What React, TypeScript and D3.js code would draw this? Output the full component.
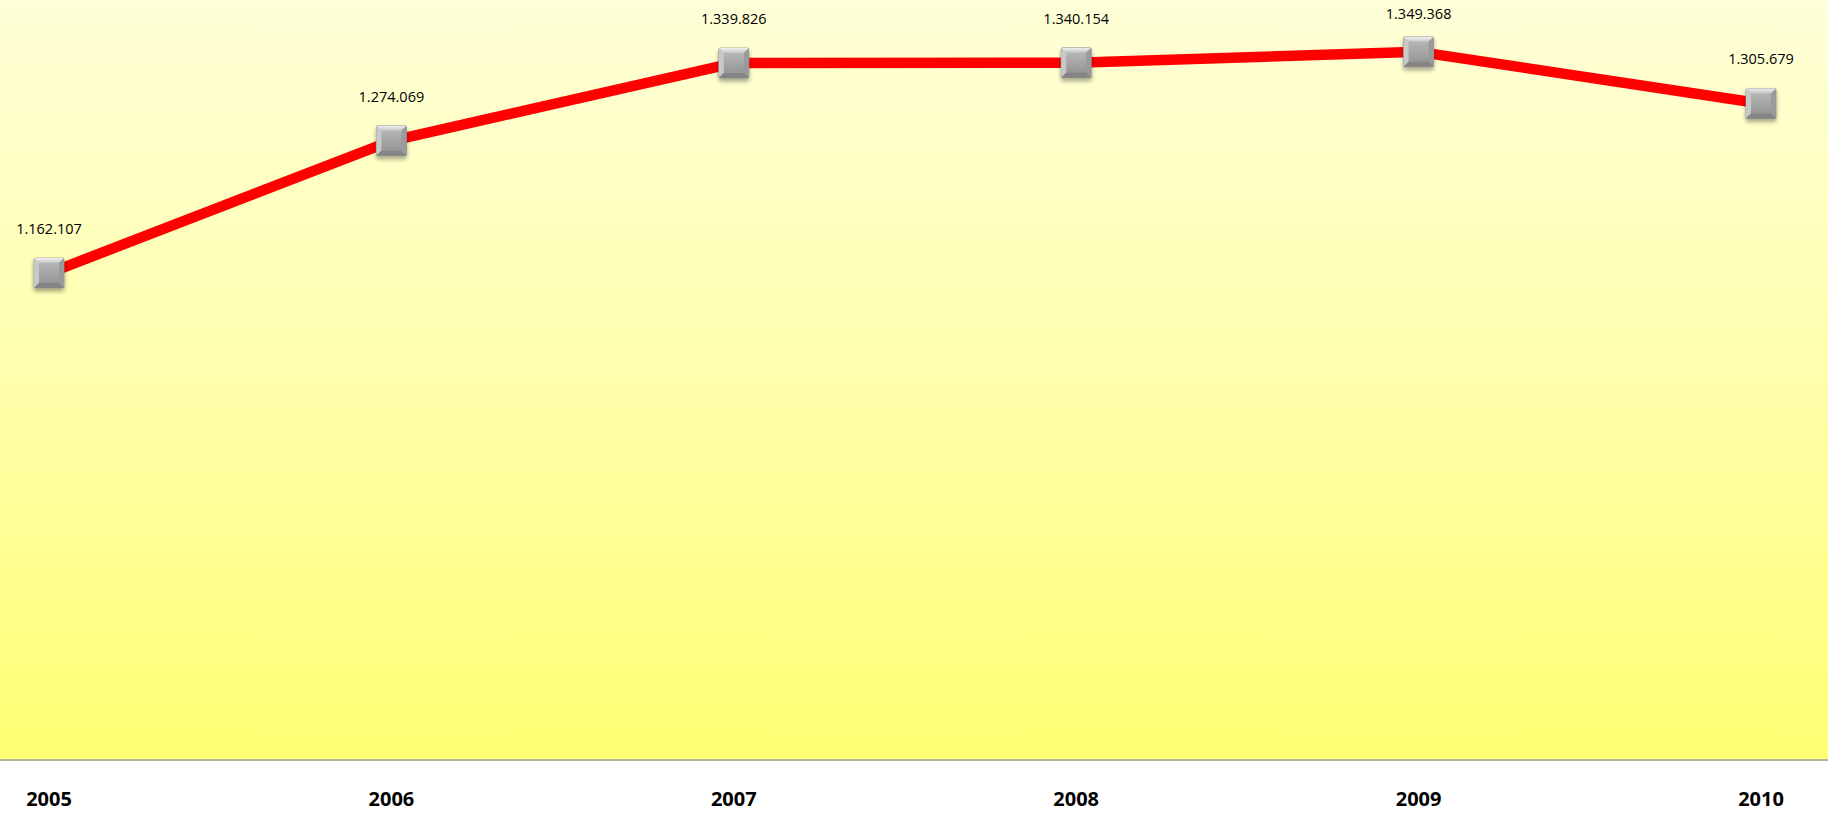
import * as d3 from "d3";

const years = ["2005", "2006", "2007", "2008", "2009", "2010"];
const values = [1162107, 1274069, 1339826, 1340154, 1349368, 1305679];
const labels = ["1.162.107", "1.274.069", "1.339.826", "1.340.154", "1.349.368", "1.305.679"];

const W = 1828;
const H = 814;
const plotBottom = 760;

export default function App() {
  const x = d3.scalePoint<string>().domain(years).range([49, 1761]);
  const y = d3.scaleLinear().domain([750000, 1400000]).range([plotBottom, -8]);

  const pts = years.map((yr, i) => ({ yr, v: values[i], label: labels[i] }));
  const line = d3
    .line<(typeof pts)[0]>()
    .x((d) => x(d.yr)!)
    .y((d) => y(d.v));

  const m = 30; // marker size

  return (
    <>
      <style>{`body{margin:0}`}</style>
      <svg width={W} height={H} style={{ display: "block" }}>
        <defs>
          <linearGradient id="bg" x1="0" y1="0" x2="0" y2="1">
            <stop offset="0" stopColor="#ffffd8" />
            <stop offset="0.5" stopColor="#ffffac" />
            <stop offset="1" stopColor="#ffff72" />
          </linearGradient>
          <linearGradient id="mk" x1="0" y1="0" x2="0" y2="1">
            <stop offset="0" stopColor="#bdbdbd" />
            <stop offset="1" stopColor="#8e8e8e" />
          </linearGradient>
          <linearGradient id="mkTop" x1="0" y1="0" x2="0" y2="1">
            <stop offset="0" stopColor="#f0f0f0" />
            <stop offset="1" stopColor="#c4c4c4" />
          </linearGradient>
          <filter id="sh" x="-30%" y="-30%" width="160%" height="170%">
            <feGaussianBlur in="SourceAlpha" stdDeviation="2" />
            <feOffset dx="0" dy="3" result="b" />
            <feComponentTransfer>
              <feFuncA type="linear" slope="0.35" />
            </feComponentTransfer>
            <feMerge>
              <feMergeNode />
              <feMergeNode in="SourceGraphic" />
            </feMerge>
          </filter>
        </defs>
        <rect x={0} y={0} width={W} height={plotBottom} fill="url(#bg)" />
        <line x1={0} x2={W} y1={plotBottom} y2={plotBottom} stroke="#b4b496" strokeWidth={2} />

        <path d={line(pts)!} fill="none" stroke="#ff0000" strokeWidth={10.5} strokeLinejoin="round" />

        {pts.map((d) => {
          const cx = x(d.yr)!;
          const cy = y(d.v);
          const l = cx - m / 2;
          const t = cy - m / 2;
          const b = 5;
          return (
            <g key={d.yr}>
              <g filter="url(#sh)">
                <rect x={l} y={t} width={m} height={m} rx={1.5} fill="url(#mk)" stroke="#8a8a8a" strokeWidth={0.8} />
                <polygon
                  points={`${l},${t} ${l + m},${t} ${l + m - b},${t + b} ${l + b},${t + b}`}
                  fill="url(#mkTop)"
                />
                <polygon
                  points={`${l},${t} ${l + b},${t + b} ${l + b},${t + m - b} ${l},${t + m}`}
                  fill="#c8c8c8"
                />
                <polygon
                  points={`${l + m},${t} ${l + m},${t + m} ${l + m - b},${t + m - b} ${l + m - b},${t + b}`}
                  fill="#9a9a9a"
                />
                <polygon
                  points={`${l},${t + m} ${l + b},${t + m - b} ${l + m - b},${t + m - b} ${l + m},${t + m}`}
                  fill="#858585"
                />
              </g>
              <text
                x={cx}
                y={Math.max(cy - 39, 19)}
                textAnchor="middle"
                fontFamily="'Open Sans', 'Liberation Sans', sans-serif"
                fontSize={14.5}
                fill="#000"
              >
                {d.label}
              </text>
            </g>
          );
        })}

        {years.map((yr) => (
          <text
            key={yr}
            x={x(yr)!}
            y={806}
            textAnchor="middle"
            fontFamily="'Open Sans', 'Liberation Sans', sans-serif"
            fontWeight="bold"
            fontSize={20}
            fill="#000"
          >
            {yr}
          </text>
        ))}
      </svg>
    </>
  );
}
